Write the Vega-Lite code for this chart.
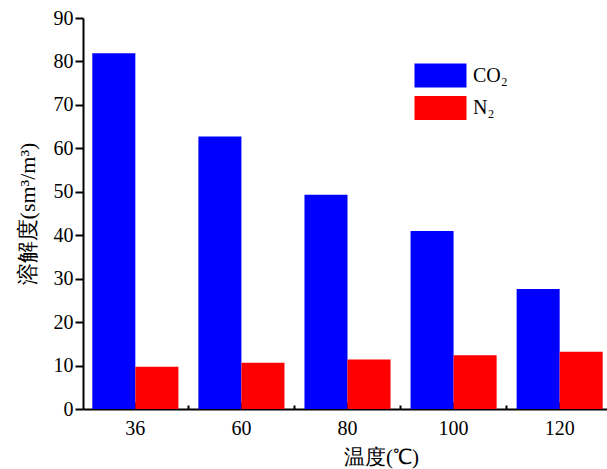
{
  "$schema": "https://vega.github.io/schema/vega-lite/v6.json",
  "width": 524,
  "height": 391,
  "autosize": {"type": "none"},
  "padding": {"left": 83, "top": 18, "right": 0, "bottom": 60},
  "background": "white",
  "config": {
    "view": {"stroke": null},
    "font": "Liberation Serif",
    "axis": {"grid": false, "domainColor": "black", "domainWidth": 2, "tickColor": "black", "tickWidth": 2, "labelColor": "black", "titleColor": "black", "labelFont": "Liberation Serif", "titleFont": "Liberation Serif", "labelFontSize": 20, "titleFontSize": 21, "titleFontWeight": "normal"}
  },
  "data": {
    "values": [
      {"temp": "36", "gas": "CO₂", "v": 81.9},
      {"temp": "36", "gas": "N₂", "v": 9.7},
      {"temp": "60", "gas": "CO₂", "v": 62.7},
      {"temp": "60", "gas": "N₂", "v": 10.65},
      {"temp": "80", "gas": "CO₂", "v": 49.3},
      {"temp": "80", "gas": "N₂", "v": 11.4},
      {"temp": "100", "gas": "CO₂", "v": 41.0},
      {"temp": "100", "gas": "N₂", "v": 12.4},
      {"temp": "120", "gas": "CO₂", "v": 27.6},
      {"temp": "120", "gas": "N₂", "v": 13.2}
    ]
  },
  "layer": [
    {
      "mark": {"type": "bar"},
      "encoding": {
        "x": {
          "field": "temp", "type": "nominal", "sort": ["36", "60", "80", "100", "120"],
          "scale": {"range": [0, 529], "paddingInner": 0.1887, "paddingOuter": 0.0877},
          "axis": {"title": "温度(℃)", "labelAngle": 0, "tickSize": -7, "labelPadding": 16, "labelFont": "Liberation Serif", "labelFontSize": 20, "titleFont": "Liberation Serif", "titleX": 298, "titleY": 54, "titleBaseline": "alphabetic"}
        },
        "xOffset": {"field": "gas", "type": "nominal", "sort": ["CO₂", "N₂"], "scale": {"paddingInner": 0, "paddingOuter": 0}},
        "y": {
          "field": "v", "type": "quantitative",
          "scale": {"domain": [0, 90], "nice": false, "zero": true},
          "axis": {
            "title": "溶解度(sm³/m³)",
            "values": [0, 5, 10, 15, 20, 25, 30, 35, 40, 45, 50, 55, 60, 65, 70, 75, 80, 85, 90],
            "labelExpr": "datum.value % 10 === 0 ? datum.label : ''",
            "labelFont": "Liberation Serif",
            "labelFontSize": 20,
            "titleFont": "Liberation Serif",
            "tickSize": 8,
            "labelPadding": 2,
            "titleFontSize": 22,
            "titlePadding": 14,
            "encode": {"ticks": {"update": {"x2": {"signal": "datum.value % 10 === 0 ? 8 : 4"}}}}
          }
        },
        "color": {
          "field": "gas", "type": "nominal", "sort": ["CO₂", "N₂"],
          "scale": {"domain": ["CO₂", "N₂"], "range": ["#0000FF", "#FF0000"]},
          "legend": {
            "title": null, "orient": "none", "legendX": 341, "legendY": 41,
            "symbolType": "M-1.6,-0.74L1.6,-0.74L1.6,0.74L-1.6,0.74Z",
            "symbolSize": 1056, "symbolStrokeWidth": 0, "symbolOpacity": 1,
            "labelFontSize": 20, "labelFont": "Liberation Serif", "labelColor": "black", "labelOffset": 16,
            "rowPadding": 3.5
          }
        }
      }
    },
    {
      "mark": {"type": "bar", "opacity": 0},
      "encoding": {
        "x": {
          "field": "temp", "type": "nominal", "sort": ["36", "60", "80", "100", "120"],
          "axis": {"orient": "bottom", "title": null, "labels": false, "domain": false, "values": ["36", "60", "80", "100"], "bandPosition": 1.116, "tickSize": -4}
        },
        "y": {"field": "v", "type": "quantitative"}
      }
    }
  ],
  "resolve": {"axis": {"x": "independent"}}
}
